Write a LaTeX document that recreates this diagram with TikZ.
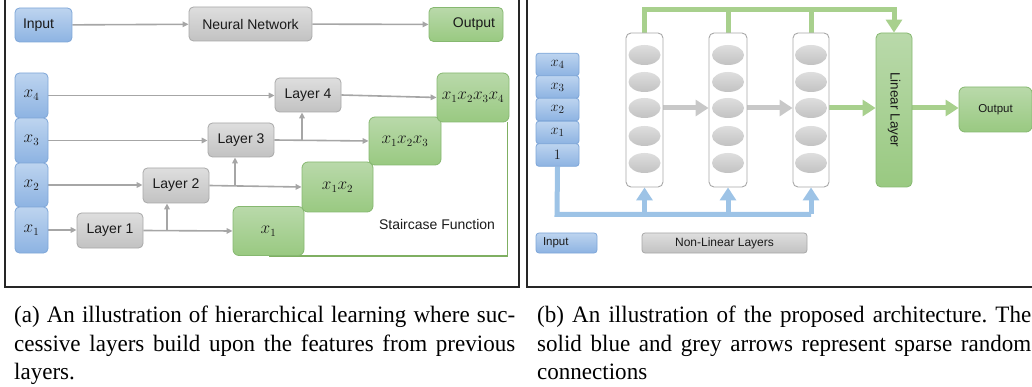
\documentclass[tikz,border=0pt]{standalone}
\usepackage{fontspec}
\setmainfont{Liberation Sans}
\newfontfamily\capfont[FakeStretch=0.98]{Liberation Serif}
\usetikzlibrary{arrows.meta,shapes.geometric}
\definecolor{bT}{HTML}{BDD4EF}
\definecolor{bB}{HTML}{8DB3E2}
\definecolor{bD}{HTML}{7EA6D8}
\definecolor{gT}{HTML}{DEDEDE}
\definecolor{gB}{HTML}{C2C2C2}
\definecolor{gD}{HTML}{A8A8A8}
\definecolor{nT}{HTML}{B9D9AA}
\definecolor{nB}{HTML}{99C981}
\definecolor{nD}{HTML}{86B870}
\definecolor{arrG}{HTML}{A6A6A6}
\definecolor{lgray}{HTML}{C8C8C8}
\definecolor{lgreen}{HTML}{A8D08D}
\definecolor{lblue}{HTML}{9DC3E6}
\definecolor{stairc}{HTML}{7FAF62}
\definecolor{txt}{HTML}{1A1A1A}
\newcommand\mthA[1]{{\fontsize{16}{18}\selectfont$#1$}}
\newcommand\mthB[1]{{\fontsize{15}{17}\selectfont$#1$}}
\pgfdeclarelayer{bg}
\pgfsetlayers{bg,main}
\tikzset{
  box/.style={rounded corners=4.5, inner sep=0, text=txt, line width=0.8, font=\fontsize{14}{16}\selectfont},
  bluebox/.style={box, top color=bT, bottom color=bB, draw=bD},
  graybox/.style={box, top color=gT, bottom color=gB, draw=gD},
  greenbox/.style={box, top color=nT, bottom color=nB, draw=nD},
  smallfont/.style={font=\fontsize{11.5}{13}\selectfont},
  colbox/.style={draw=gD, fill=white, rounded corners=5, line width=0.9, inner sep=0},
  neuron/.style={ellipse, inner sep=0, minimum width=32, minimum height=20, top color=gT, bottom color=gB, draw=none},
  ga/.style={draw=arrG, line width=1.6, -{Triangle[length=6,width=5.5]}},
  ta/.style={line width=5, -{Triangle[length=13,width=16]}},
  tline/.style={line width=5, line cap=square},
  stair/.style={draw=stairc, line width=1.4},
  frame/.style={draw=black!85, line width=1.2}
}
\begin{document}
\begin{tikzpicture}[x=1pt,y=-1pt]
\useasboundingbox (0,0) rectangle (1032,387);

% frames
\draw[frame] (5,-5) -- (5,287) -- (519,287) -- (519,-5);
\draw[frame] (527,-5) -- (527,287) -- (1040,287);

% ---------------- panel (a) ----------------
\node[bluebox, minimum width=57, minimum height=34, text width=41, align=left] (inA) at (43.5,25) {Input};
\node[graybox, minimum width=123, minimum height=34] (nn) at (250.5,24) {Neural Network};
\node[greenbox, minimum width=74, minimum height=34, text width=58, align=right] (outA) at (466,24.5) {Output};

\node[bluebox, minimum width=33, minimum height=45] (x4) at (31.5,95.5) {\mthA{x_4}};
\node[bluebox, minimum width=33, minimum height=45] (x3) at (31.5,140.5) {\mthA{x_3}};
\node[bluebox, minimum width=33, minimum height=44] (x2) at (31.5,185) {\mthA{x_2}};
\node[bluebox, minimum width=33, minimum height=46] (x1) at (31.5,230) {\mthA{x_1}};

\node[graybox, minimum width=66, minimum height=34] (L4) at (308,95) {Layer 4};
\node[graybox, minimum width=66, minimum height=34] (L3) at (241,140) {Layer 3};
\node[graybox, minimum width=66, minimum height=35] (L2) at (176,185.5) {Layer 2};
\node[graybox, minimum width=66, minimum height=35] (L1) at (110,230.5) {Layer 1};

\node[greenbox, rounded corners=6, minimum width=71, minimum height=49] (o1) at (268.5,231) {\mthA{x_1}};
\node[greenbox, rounded corners=6, minimum width=71, minimum height=50] (o2) at (337.5,187) {\mthA{x_1x_2}};
\node[greenbox, rounded corners=6, minimum width=72, minimum height=48] (o3) at (405,141) {\mthA{x_1x_2x_3}};
\node[greenbox, rounded corners=6, minimum width=72, minimum height=49] (o4) at (473,97.5) {\mthA{x_1x_2x_3x_4}};

\node[text=txt, font=\fontsize{14}{16}\selectfont] (stt) at (437,224) {Staircase Function};

\coordinate (b3) at (302,140.5);
\coordinate (b2) at (235,186);
\coordinate (b1) at (167,231);

\begin{pgfonlayer}{bg}
\draw[stair] (o1.south) -| ([xshift=-2]o4.south east);
\draw[ga] (inA) -- (nn);
\draw[ga] (nn) -- (outA);
\draw[ga] (x4.east) -- (x4.east -| L4.west);
\draw[ga] (L4.east) -- (o4.west);
\draw[ga] (x3.east) -- (x3.east -| L3.west);
\draw[ga] (L3.east) -- (o3.west);
\draw[ga] (b3) -- (b3 |- L4.south);
\draw[ga] (x2.east) -- (x2.east -| L2.west);
\draw[ga] (L2.east) -- (o2.west);
\draw[ga] (b2) -- (b2 |- L3.south);
\draw[ga] (x1.east) -- (x1.east -| L1.west);
\draw[ga] (L1.east) -- (o1.west);
\draw[ga] (b1) -- (b1 |- L2.south);
\end{pgfonlayer}

% ---------------- panel (b) ----------------
\node[bluebox, smallfont, rounded corners=3, minimum width=43, minimum height=22.6] (s4) at (557.5,64.5) {\mthB{x_4}};
\node[bluebox, smallfont, rounded corners=3, minimum width=43, minimum height=22.6] (s3) at (557.5,87) {\mthB{x_3}};
\node[bluebox, smallfont, rounded corners=3, minimum width=43, minimum height=22.6] (s2) at (557.5,109.5) {\mthB{x_2}};
\node[bluebox, smallfont, rounded corners=3, minimum width=43, minimum height=22.6] (s1) at (557.5,132.5) {\mthB{x_1}};
\node[bluebox, smallfont, rounded corners=3, minimum width=43, minimum height=22.6] (s0) at (557.5,155) {\mthB{1}};

\node[colbox, minimum width=37, minimum height=154] (c1) at (644.5,110) {};
\node[colbox, minimum width=38, minimum height=154] (c2) at (728,110) {};
\node[colbox, minimum width=36, minimum height=154] (c3) at (811,110) {};
\foreach \c/\x in {c1/644.5, c2/728, c3/811}
  \foreach \yy [count=\i] in {55,82,108,136,163}
    \node[neuron] (\c n\i) at (\x,\yy) {};

\node[greenbox, rounded corners=5, minimum width=36, minimum height=154] (lin) at (894,110) {};
\node[rotate=-90, text=txt, inner sep=0, font=\fontsize{13.5}{15}\selectfont] (lintxt) at (lin.center) {Linear Layer};
\node[greenbox, smallfont, rounded corners=6, minimum width=73, minimum height=45] (outR) at (995.5,109.5) {Output};

\node[bluebox, smallfont, rounded corners=3, minimum width=61, minimum height=20, text width=47, align=left] (inL) at (566.5,243) {Input};
\node[graybox, font=\fontsize{12}{13}\selectfont, rounded corners=3, minimum width=165, minimum height=20] (nlL) at (724.5,243) {Non-Linear Layers};

\coordinate (tb) at (644.5,10);
\coordinate (bb) at (557,214.5);

\begin{pgfonlayer}{bg}
% green top bus
\draw[tline, lgreen] (c2.north) -- (c2.north |- tb);
\draw[tline, lgreen] (c3.north) -- (c3.north |- tb);
\draw[ta, lgreen, line cap=square] (c1.north) -- (tb) -| (lin.north);
% blue bottom bus
\draw[tline, lblue] (s0.south) -- (bb) -- (bb -| c3.south);
\draw[ta, lblue] (c1.south |- bb) -- (c1.south);
\draw[ta, lblue] (c2.south |- bb) -- (c2.south);
\draw[ta, lblue] (c3.south |- bb) -- (c3.south);
% horizontal arrows
\draw[ta, lgray] (c1.east |- c1n3) -- (c2.west |- c1n3);
\draw[ta, lgray] (c2.east |- c2n3) -- (c3.west |- c2n3);
\draw[ta, lgreen] (c3.east |- c3n3) -- (lin.west |- c3n3);
\draw[ta, lgreen] (lin.east |- c3n3) -- (outR.west |- c3n3);
\end{pgfonlayer}

% ---------------- captions ----------------
\node[anchor=base west, inner sep=0, text width=501pt, align=justify, text=black,
      font=\capfont\fontsize{23.5}{28.5}\selectfont\frenchspacing] (capa) at (14,322.7)
  {(a) An illustration of hierarchical learning where suc-\linebreak cessive layers build upon the features from previous\linebreak layers.};
\node[anchor=base west, inner sep=0, text width=494pt, align=justify, text=black,
      font=\capfont\fontsize{23.5}{28.5}\selectfont\frenchspacing] (capb) at (537,322.7)
  {(b) An illustration of the proposed architecture. The\linebreak solid blue and grey arrows represent sparse random\linebreak connections};
\end{tikzpicture}
\end{document}
